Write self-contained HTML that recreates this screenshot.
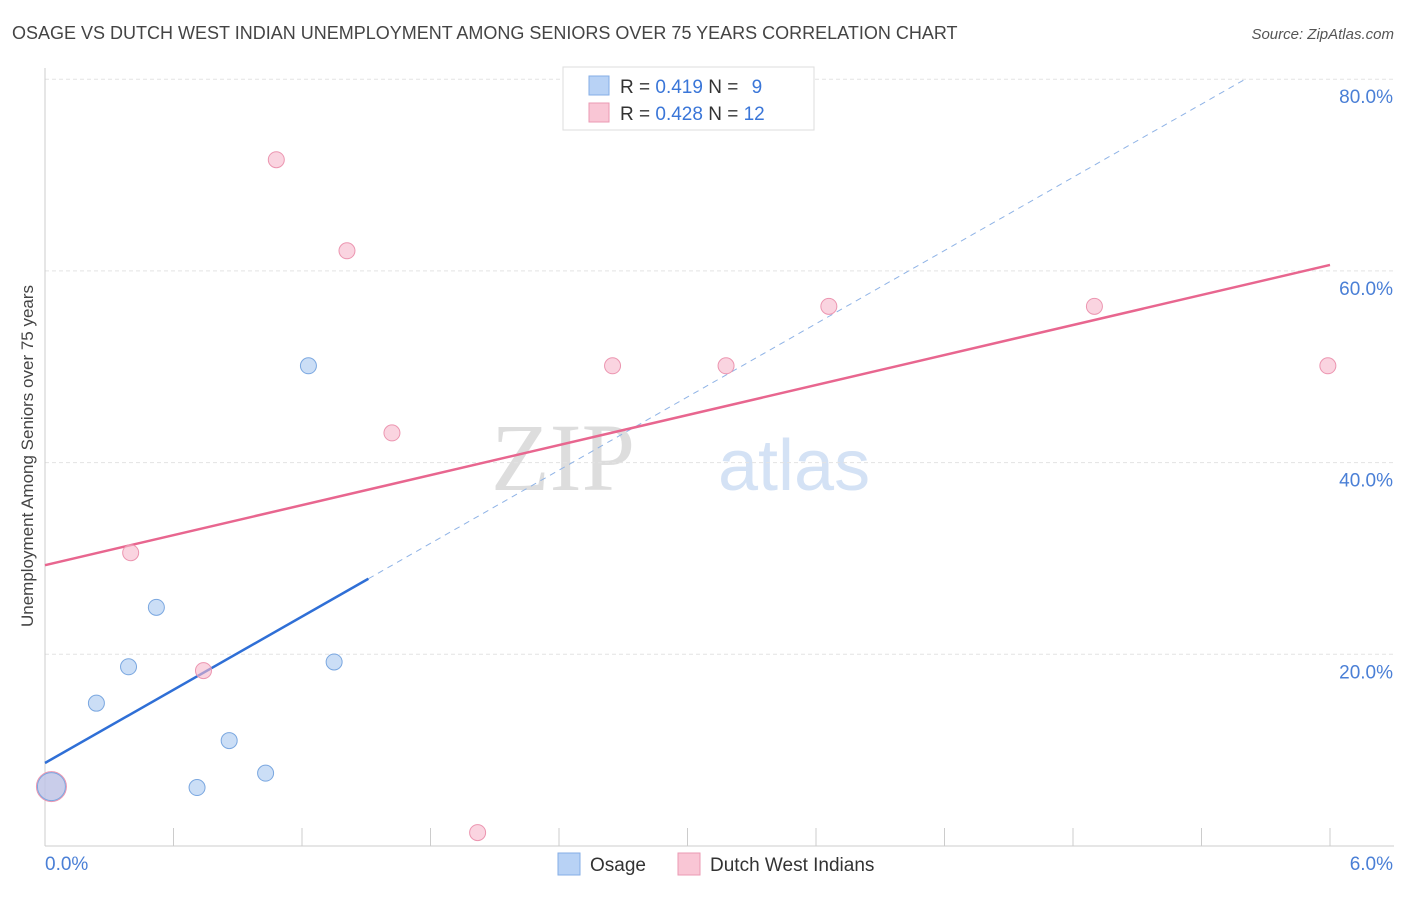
<!DOCTYPE html>
<html><head><meta charset="utf-8"><style>
body{margin:0;background:#fff;font-family:"Liberation Sans",sans-serif}
</style></head><body>
<svg id="chart" width="1406" height="892" xmlns="http://www.w3.org/2000/svg">
<text x="12" y="39" font-size="18" fill="#444">OSAGE VS DUTCH WEST INDIAN UNEMPLOYMENT AMONG SENIORS OVER 75 YEARS CORRELATION CHART</text>
<text x="1394" y="39" font-size="15" fill="#555" text-anchor="end" font-style="italic">Source: ZipAtlas.com</text>
<text transform="translate(33,456) rotate(-90)" font-size="17" fill="#444" text-anchor="middle">Unemployment Among Seniors over 75 years</text>
<g>
<text x="635" y="490" font-size="96" fill="#ddd" text-anchor="end" font-family="Liberation Serif">ZIP</text>
<text x="718" y="490" font-size="72" fill="#d4e2f5">atlas</text>
</g>
<g id="grid"></g><g id="axes"></g><g id="lines"></g><g id="points"></g>
<g>
<rect x="563" y="67" width="251" height="63" fill="#fff" stroke="#ddd"/>
<rect x="589" y="76" width="20" height="19" fill="#b8d2f5" stroke="#85aee6"/>
<text x="620" y="93" font-size="19" fill="#333">R = <tspan fill="#3a76d8">0.419</tspan>   N = <tspan fill="#3a76d8" dx="8">9</tspan></text>
<rect x="589" y="103" width="20" height="19" fill="#f9c6d5" stroke="#eb9ab3"/>
<text x="620" y="120" font-size="19" fill="#333">R = <tspan fill="#3a76d8">0.428</tspan>   N = <tspan fill="#3a76d8">12</tspan></text>
</g>
<g>
<rect x="558" y="853" width="22" height="22" fill="#b8d2f5" stroke="#85aee6"/>
<text x="590" y="871" font-size="19" fill="#333">Osage</text>
<rect x="678" y="853" width="22" height="22" fill="#f9c6d5" stroke="#eb9ab3"/>
<text x="710" y="871" font-size="19" fill="#333">Dutch West Indians</text>
</g>
</svg>
<script>
const osageX=[0.03,0.24,0.39,0.52,0.71,0.86,1.03,1.23,1.35];
const osageY=[6.2,14.9,18.7,24.9,6.1,11.0,7.6,50.1,19.2];
const dutchX=[0.03,0.40,0.74,1.08,1.41,1.62,2.02,2.65,3.18,3.66,4.90,5.99];
const dutchY=[6.2,30.6,18.3,71.6,62.1,43.1,1.4,50.1,50.1,56.3,56.3,50.1];
const osageTrend=[8.66,12.73];
const dutchTrend=[29.3,5.22];
const yTicks=[20,40,60,80];
const yTickLabels=["20.0%","40.0%","60.0%","80.0%"];
const xTicks=[0,0.6,1.2,1.8,2.4,3.0,3.6,4.2,4.8,5.4,6.0];
const NS="http://www.w3.org/2000/svg";
const sx=v=>45+v*1285/6, sy=v=>846-v*191.7/20;
function mk(p,t,a){const e=document.createElementNS(NS,t);for(const k in a)e.setAttribute(k,a[k]);document.getElementById(p).appendChild(e);return e;}
yTicks.forEach((t,i)=>{
 const l=mk('grid','line',{x1:45,x2:1394,y1:sy(t),y2:sy(t),stroke:'#e3e3e3','stroke-dasharray':'4,3'});
 
 
 const tx=mk('grid','text',{x:1393,y:sy(t)+24,'font-size':19,fill:'#4a7fd6','text-anchor':'end'});
 tx.textContent=yTickLabels[i];
 
 
});
const ax=mk('axes','line',{x1:45,x2:1394,y1:846,y2:846,stroke:'#ccc'});


const ay=mk('axes','line',{x1:45,x2:45,y1:68,y2:846,stroke:'#ccc'});


xTicks.forEach(t=>{const l=mk('axes','line',{x1:sx(t),x2:sx(t),y1:828,y2:846,stroke:'#ccc'});
 
 });
const x0=mk('axes','text',{x:45,y:870,'font-size':19,fill:'#4a7fd6'});x0.textContent='0.0%';


const x1=mk('axes','text',{x:1393,y:870,'font-size':19,fill:'#4a7fd6','text-anchor':'end'});x1.textContent='6.0%';


// trends
const xEnd=(80-osageTrend[0])/osageTrend[1];
const bd=mk('lines','line',{x1:sx(1.51),y1:sy(osageTrend[0]+osageTrend[1]*1.51),x2:sx(xEnd),y2:sy(80),stroke:'#8fb3e6','stroke-dasharray':'6,5','stroke-width':1});


const bl=mk('lines','line',{x1:sx(0),y1:sy(osageTrend[0]),x2:sx(1.51),y2:sy(osageTrend[0]+osageTrend[1]*1.51),stroke:'#2f6fd6','stroke-width':2.5});


const pl=mk('lines','line',{x1:sx(0),y1:sy(dutchTrend[0]),x2:sx(6),y2:sy(dutchTrend[0]+dutchTrend[1]*6),stroke:'#e8668f','stroke-width':2.5});


dutchX.forEach((x,i)=>{const c=mk('points','circle',{cx:sx(x),cy:sy(dutchY[i]),r:i==0?15:8,fill:'#f6b8cb','fill-opacity':0.6,stroke:'#ec95b0'});
 
 });
osageX.forEach((x,i)=>{const c=mk('points','circle',{cx:sx(x),cy:sy(osageY[i]),r:i==0?14:8,fill:'#a9c8f0','fill-opacity':0.6,stroke:'#7aa7e0'});
 
 });
</script>
</body></html>
